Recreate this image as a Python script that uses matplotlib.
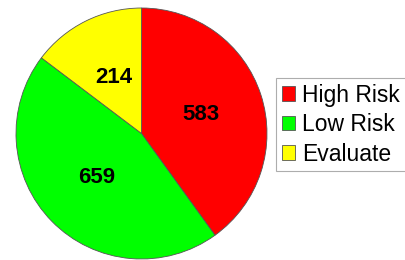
import matplotlib.pyplot as plt

labels = ["High Risk", "Low Risk", "Evaluate"]
counts = [583, 659, 214]
colors = ["#ff0000", "#00ff00", "#ffff00"]

plt.rcParams["font.family"] = ["Liberation Sans", "DejaVu Sans"]

fig = plt.figure(figsize=(4.06, 2.6), dpi=100)
ax = fig.add_axes([16 / 406, 1 / 260, 251 / 406, 251 / 260])

wedges, texts, autotexts = ax.pie(
    counts,
    colors=colors,
    startangle=90,
    counterclock=False,
    autopct=lambda p: f"{round(p * sum(counts) / 100):d}",
    pctdistance=0.5,
    wedgeprops=dict(edgecolor="#555555", linewidth=0.6),
    textprops=dict(fontsize=16, fontweight="bold", color="black"),
)
ax.set_xlim(-1, 1)
ax.set_ylim(-1, 1)
ax.set_aspect("equal")
for w in wedges:
    w.set_clip_on(False)

leg = fig.legend(
    wedges,
    labels,
    loc="upper left",
    bbox_to_anchor=(276 / 406, 1 - 78 / 260),
    fontsize=16.5,
    frameon=True,
    fancybox=False,
    edgecolor="#999999",
    handlelength=0.6,
    handleheight=0.6,
    handletextpad=0.3,
    labelspacing=0.28,
    borderpad=0.25,
    borderaxespad=0,
)
leg.get_frame().set_linewidth(0.8)

fig.savefig("out.png", dpi=100)
